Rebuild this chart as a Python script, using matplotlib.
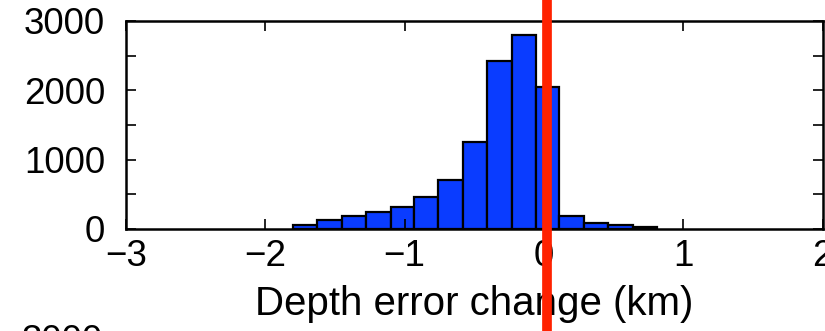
import matplotlib
matplotlib.use('Agg')
import matplotlib.pyplot as plt

# histogram of depth error change
bin_edges = [-1.80, -1.63, -1.45, -1.28, -1.10, -0.93, -0.76, -0.58,
             -0.41, -0.23, -0.06, 0.11, 0.29, 0.46, 0.64, 0.81]
counts = [60, 130, 190, 240, 320, 460, 710, 1250, 2430, 2800, 2050, 190, 85, 55, 30]
zero_line = 0.02

x_ticks = [-3, -2, -1, 0, 1, 2]
y_ticks = [0, 500, 1000, 1500, 2000, 2500, 3000]
y_labels = ['0', '', '1000', '', '2000', '', '3000']

plt.rcParams['font.family'] = ['Liberation Sans', 'DejaVu Sans']

fig = plt.figure(figsize=(8.25, 3.31), dpi=100)
ax = fig.add_axes([0.1527, 0.3082, 0.9972 - 0.1527, 0.9366 - 0.3082])

ax.hist(bin_edges[:-1], bins=bin_edges, weights=counts,
        color='#0a3cff', edgecolor='black', linewidth=1.6)

# red reference line runs through the whole panel
ax.axvline(zero_line, ymin=-0.6, ymax=1.2, color='#ff2200', linewidth=7,
           clip_on=False, zorder=5)

ax.set_xlim(-3, 2)
ax.set_ylim(0, 3000)
ax.set_xticks(x_ticks)
ax.set_xticklabels([str(t).replace('-', '\u2212') for t in x_ticks])
ax.set_yticks(y_ticks)
ax.set_yticklabels(y_labels)
ax.tick_params(direction='in', length=7, width=1.2, top=True, right=True,
               labelsize=26.5)
ax.tick_params(axis='x', pad=7)
ax.tick_params(axis='y', pad=15)
for s in ax.spines.values():
    s.set_linewidth(1.8)

ax.set_xlabel('Depth error change (km)', fontsize=29, labelpad=8)

# top of the next panel's label peeks in at the bottom edge
fig.text(103 / 825, 1 - 324 / 331, '3000', fontsize=26.5, ha='right', va='top')

fig.savefig('out.png', dpi=100)
